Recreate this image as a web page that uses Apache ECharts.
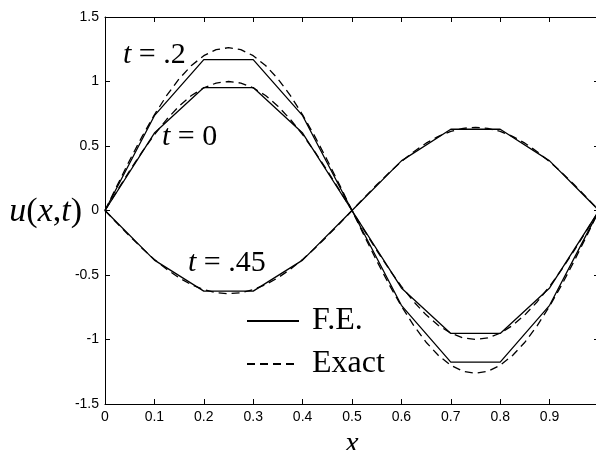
<!DOCTYPE html>
<html><head><meta charset="utf-8">
<script src="https://cdn.jsdelivr.net/npm/echarts@6/dist/echarts.min.js"></script>
<style>html,body{margin:0;padding:0;background:#fff}#c{width:596px;height:450px}</style>
</head><body><div id="c"></div>
<script>
// FE nodes
var feX = [0, 0.1, 0.2, 0.3, 0.4, 0.5, 0.6, 0.7, 0.8, 0.9, 1];
var feT0   = [0, 0.6, 0.953, 0.953, 0.6, 0, -0.6, -0.953, -0.953, -0.6, 0];
var feT02  = [0, 0.735, 1.17, 1.17, 0.735, 0, -0.735, -1.175, -1.175, -0.735, 0];
var feT045 = [0, -0.385, -0.625, -0.625, -0.385, 0, 0.385, 0.63, 0.63, 0.385, 0];
// Exact curves
var exX = [0,0.025,0.05,0.075,0.1,0.125,0.15,0.175,0.2,0.225,0.25,0.275,0.3,0.325,0.35,0.375,0.4,0.425,0.45,0.475,0.5,
           0.525,0.55,0.575,0.6,0.625,0.65,0.675,0.7,0.725,0.75,0.775,0.8,0.825,0.85,0.875,0.9,0.925,0.95,0.975,1];
var exT0 = [0,0.156,0.309,0.454,0.588,0.707,0.809,0.891,0.951,0.988,1,0.988,0.951,0.891,0.809,0.707,0.588,0.454,0.309,0.156,0,
            -0.156,-0.309,-0.454,-0.588,-0.707,-0.809,-0.891,-0.951,-0.988,-1,-0.988,-0.951,-0.891,-0.809,-0.707,-0.588,-0.454,-0.309,-0.156,0];
var exT02 = [0,0.197,0.390,0.573,0.742,0.892,1.021,1.124,1.200,1.247,1.262,1.247,1.200,1.124,1.021,0.892,0.742,0.573,0.390,0.197,0,
             -0.197,-0.390,-0.573,-0.742,-0.892,-1.021,-1.124,-1.200,-1.247,-1.262,-1.247,-1.200,-1.124,-1.021,-0.892,-0.742,-0.573,-0.390,-0.197,0];
var exT045 = [0,-0.101,-0.199,-0.293,-0.379,-0.456,-0.522,-0.575,-0.613,-0.637,-0.645,-0.637,-0.613,-0.575,-0.522,-0.456,-0.379,-0.293,-0.199,-0.101,0,
              0.101,0.199,0.293,0.379,0.456,0.522,0.575,0.613,0.637,0.645,0.637,0.613,0.575,0.522,0.456,0.379,0.293,0.199,0.101,0];

function pairs(xs, ys){ return xs.map(function(x,i){ return [x, ys[i]]; }); }
var serif = 'Liberation Serif';
var solid = {color:'#000', width:1.3, type:'solid'};
var dashed = {color:'#000', width:1.3, type:[8,5]};
function ser(name, data, ls){
  return {type:'line', name:name, data:data, symbol:'none', showSymbol:false, silent:true,
          lineStyle:ls, itemStyle:{color:'#000'}, animation:false, xAxisIndex:0, yAxisIndex:0};
}
var tickLab = {fontFamily:'Liberation Sans', fontSize:14, color:'#000'};
var chart = echarts.init(document.getElementById('c'), null, {renderer:'canvas'});
chart.setOption({
  animation:false,
  backgroundColor:'#fff',
  grid:{left:105, right:-3, top:17, bottom:46, containLabel:false, outerBoundsMode:'none'},
  xAxis:[
    {type:'value', min:0, max:1, interval:0.1, position:'bottom',
     axisLine:{onZero:false, lineStyle:{color:'#000', width:1}},
     axisTick:{inside:true, length:5, lineStyle:{color:'#000'}},
     axisLabel:Object.assign({margin:6}, tickLab),
     splitLine:{show:false},
     name:'x', nameLocation:'middle', nameGap:23,
     nameTextStyle:{fontFamily:serif, fontStyle:'italic', fontSize:30, color:'#000'}},
    {type:'value', min:0, max:1, interval:0.1, position:'top',
     axisLine:{onZero:false, lineStyle:{color:'#000', width:1}},
     axisTick:{inside:true, length:5, lineStyle:{color:'#000'}},
     axisLabel:{show:false}, splitLine:{show:false}}
  ],
  yAxis:[
    {type:'value', min:-1.5, max:1.5, interval:0.5, position:'left',
     axisLine:{show:true, onZero:false, lineStyle:{color:'#000', width:1}},
     axisTick:{show:true, inside:true, length:5, lineStyle:{color:'#000'}},
     axisLabel:Object.assign({margin:6}, tickLab),
     splitLine:{show:false},
     name:'{i|u}({i|x},{i|t})', nameLocation:'middle', nameRotate:0, nameGap:23, nameMoveOverlap:false,
     nameTextStyle:{fontFamily:serif, fontSize:34, color:'#000', padding:[3,0,0,0],
       rich:{i:{fontFamily:serif, fontStyle:'italic', fontSize:34, color:'#000'}}}},
    {type:'value', min:-1.5, max:1.5, interval:0.5, position:'right',
     axisLine:{show:true, onZero:false, lineStyle:{color:'#000', width:1}},
     axisTick:{show:true, inside:true, length:5, lineStyle:{color:'#000'}},
     axisLabel:{show:false}, splitLine:{show:false}}
  ],
  legend:{
    orient:'vertical', left:241, top:300, itemWidth:52, itemHeight:14, itemGap:11,
    data:['F.E.','Exact'],
    itemStyle:{opacity:0, color:'transparent', borderWidth:0},
    textStyle:{fontFamily:serif, fontSize:32, color:'#000', lineHeight:32, padding:[0,0,0,8]},
    selectedMode:false
  },
  series:[
    ser('F.E.', pairs(feX, feT0), solid),
    ser('F.E.', pairs(feX, feT02), solid),
    ser('F.E.', pairs(feX, feT045), solid),
    ser('Exact', pairs(exX, exT0), dashed),
    ser('Exact', pairs(exX, exT02), dashed),
    ser('Exact', pairs(exX, exT045), dashed)
  ],
  graphic:[
    {type:'text', left:123, top:40, style:{text:'{i|t} = .2', fontFamily:serif, fontSize:30, fill:'#000',
      rich:{i:{fontFamily:serif, fontStyle:'italic', fontSize:30, fill:'#000'}}}},
    {type:'text', left:162, top:122, style:{text:'{i|t} = 0', fontFamily:serif, fontSize:30, fill:'#000',
      rich:{i:{fontFamily:serif, fontStyle:'italic', fontSize:30, fill:'#000'}}}},
    {type:'text', left:188, top:248, style:{text:'{i|t} = .45', fontFamily:serif, fontSize:30, fill:'#000',
      rich:{i:{fontFamily:serif, fontStyle:'italic', fontSize:30, fill:'#000'}}}}
  ]
});
</script></body></html>
